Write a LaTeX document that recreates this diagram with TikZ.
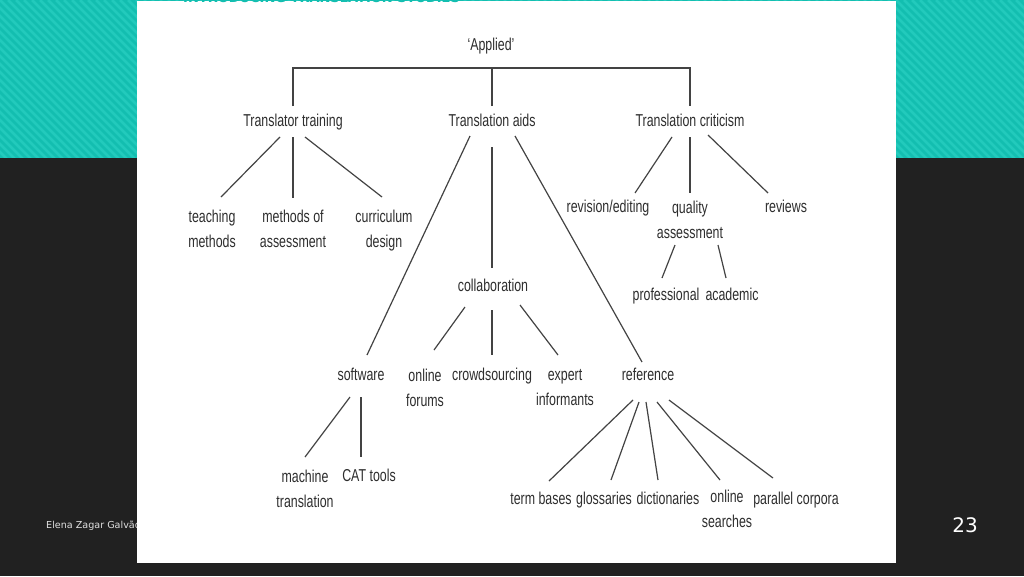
\documentclass[tikz,border=0pt]{standalone}
\usepackage{fontspec}
\setmainfont{Liberation Sans}
\newfontfamily\diagfont[FakeStretch=0.72]{Liberation Sans}
\newfontfamily\slidefont{DejaVu Sans}
\usetikzlibrary{calc}
\definecolor{tealA}{HTML}{13BEB0}
\definecolor{tealB}{HTML}{22CABC}
\definecolor{slidebg}{HTML}{212121}
\definecolor{ink}{HTML}{2E2E2E}

\begin{document}
\begin{tikzpicture}[x=1pt, y=-1pt,
        entry/.style={
            font=\diagfont\fontsize{17.2}{25}\selectfont,
            text=ink,
            align=center,
            inner sep=0pt,
            execute at begin node=\strut,
            execute at end node=\strut,
        },
        conn/.style={
            draw=ink!90,
            line width=1.2pt,
        },
    ]

    \useasboundingbox (0,0) rectangle (1024,576);
    \fill[slidebg] (0,0) rectangle (1024,576);
    \fill[tealA] (0,0) rectangle (1024,158);
    \begin{scope}
        \clip (0,0) rectangle (1024,157);
        \foreach \i in {-160,-152,...,1024}
            \draw[tealB, line width=2.5pt] (\i,0) -- ++(160,160);
    \end{scope}

    \node (author) at (46,526) [anchor=west, inner sep=0pt, text=white!88!black, font=\slidefont\fontsize{9.6}{12}\selectfont] {Elena Zagar Galvão};
    \node (page) at (965,525) [text=white, font=\slidefont\fontsize{20}{24}\selectfont] {23};

    \fill[white] (137,1) rectangle (896,563);
    \node (title) at (183,2.5) [anchor=base west, inner sep=0pt, text=tealA, font=\slidefont\bfseries\fontsize{13}{15}\selectfont] {INTRODUCING TRANSLATION STUDIES};

    \node (app) at (491,45) [entry] {‘Applied’};
    \node (tt) at (293,121) [entry] {Translator training};
    \node (ta) at (492,121) [entry] {Translation aids};
    \node (tc) at (690,121) [entry] {Translation criticism};

    \node (tm) at (212,232.5) [entry] {teaching\\methods};
    \node (ma) at (293,232.5) [entry] {methods of\\assessment};
    \node (cd) at (384,232.5) [entry] {curriculum\\design};

    \node (re) at (608,207) [entry] {revision/editing};
    \node (qa) at (690,223.5) [entry] {quality\\assessment};
    \node (rv) at (786,207) [entry] {reviews};
    \node (pr) at (666,295) [entry] {professional};
    \node (ac) at (732,295) [entry] {academic};

    \node (co) at (493,286) [entry] {collaboration};
    \node (sw) at (361,375) [entry] {software};
    \node (of) at (425,391.5) [entry] {online\\forums};
    \node (cs) at (492,375) [entry] {crowdsourcing};
    \node (ei) at (565,391.5) [entry] {expert\\informants};
    \node (rf) at (648,375) [entry] {reference};

    \node (mt) at (305,492.5) [entry] {machine\\translation};
    \node (ct) at (369,476) [entry] {CAT tools};

    \node (tb) at (541,499) [entry] {term bases};
    \node (gl) at (604,499) [entry] {glossaries};
    \node (di) at (668,499) [entry] {dictionaries};
    \node (os) at (727,512.5) [entry] {online\\searches};
    \node (pc) at (796,499) [entry] {parallel corpora};

    \draw [conn] ($(tt)+(0,-15)$) |- ($(tc)+(0,-53)$) -- ($(tc)+(0,-15)$);
    \draw [conn] ($(ta)+(0,-15)$) -- ($(ta)+(0,-53)$);

    \draw [conn] ($(tt)+(-13,16)$) -- ($(tm)+(9,-35.5)$);
    \draw [conn] ($(tt)+(0,16)$) -- ($(ma)+(0,-34.5)$);
    \draw [conn] ($(tt)+(12,16)$) -- ($(cd)+(-2,-35.5)$);

    \draw [conn] ($(ta)+(-22,15)$) -- ($(sw)+(6,-20)$);
    \draw [conn] ($(ta)+(0,26)$) -- ($(co)+(-1,-18)$);
    \draw [conn] ($(ta)+(23,15)$) -- ($(rf)+(-6,-13)$);

    \draw [conn] ($(tc)+(-18,16)$) -- ($(re)+(27,-14)$);
    \draw [conn] ($(tc)+(0,16)$) -- ($(qa)+(0,-30.5)$);
    \draw [conn] ($(tc)+(18,14)$) -- ($(rv)+(-18,-14)$);
    \draw [conn] ($(qa)+(-15,21.5)$) -- ($(pr)+(-4,-17)$);
    \draw [conn] ($(qa)+(28,21.5)$) -- ($(ac)+(-6,-17)$);

    \draw [conn] ($(co)+(-28,21)$) -- ($(of)+(9,-41.5)$);
    \draw [conn] ($(co)+(-1,24)$) -- ($(cs)+(0,-20)$);
    \draw [conn] ($(co)+(27,19)$) -- ($(ei)+(-7,-36.5)$);

    \draw [conn] ($(sw)+(-11,22)$) -- ($(mt)+(0,-35.5)$);
    \draw [conn] ($(sw)+(0,22)$) -- ($(ct)+(-8,-19)$);

    \draw [conn] ($(rf)+(-15,25)$) -- ($(tb)+(8,-18)$);
    \draw [conn] ($(rf)+(-9,27)$) -- ($(gl)+(7,-19)$);
    \draw [conn] ($(rf)+(-2,27)$) -- ($(di)+(-10,-19)$);
    \draw [conn] ($(rf)+(9,27)$) -- ($(os)+(-7,-32.5)$);
    \draw [conn] ($(rf)+(21,25)$) -- ($(pc)+(-23,-21)$);

\end{tikzpicture}
\end{document}
